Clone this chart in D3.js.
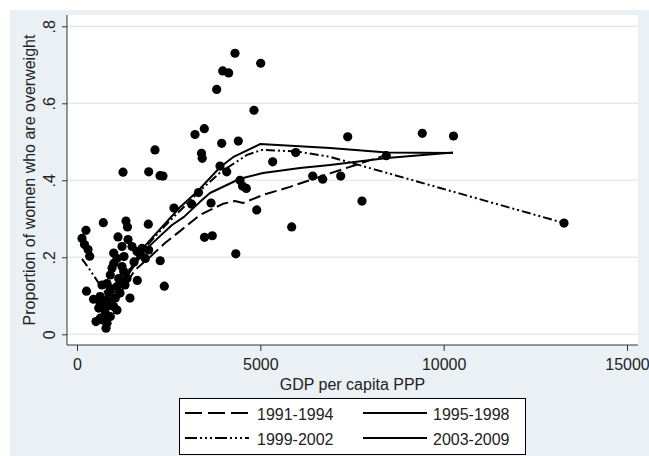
<!DOCTYPE html>
<html>
<head>
<meta charset="utf-8">
<script src="https://cdn.jsdelivr.net/npm/d3@7"></script>
<style>
  html, body { margin: 0; padding: 0; background: #ffffff; }
  svg { display: block; font-family: "Liberation Sans", Arial, sans-serif; }
</style>
</head>
<body>
<svg id="chart" width="649" height="456"></svg>
<script>
// ---------- DATA ----------
const xTicks = [0, 5000, 10000, 15000];
const xTickLabels = ["0", "5000", "10000", "15000"];
const yTicks = [0, 0.2, 0.4, 0.6, 0.8];
const yTickLabels = ["0", ".2", ".4", ".6", ".8"];
const xTitle = "GDP per capita PPP";
const yTitle = "Proportion of women who are overweight";
const seriesNames = ["1991-1994", "1995-1998", "1999-2002", "2003-2009"];

// scatter: GDP per capita PPP, proportion overweight
const pointsGdp = [4309,5010,3974,4137,3810,4827,3218,3472,3946,4399,3395,3415,2127,1255,1955,2264,2345,3900,4083,5337,
  5965,4445,4514,4617,3314,3128,3655,2645,4901,717,1336,1945,1377,245,5855,7383,9417,10268,8436,7192,
  6701,6428,7773,13282,3477,3690,4331,2269,2381,1645,1445,136,205,300,346,1118,1391,1227,1001,1500,
  1636,1773,1955,1863,1091,1001,1227,1274,908,1137,1364,259,682,818,908,1091,450,635,818,1045,
  592,818,1001,772,635,908,818,709,791,518,1091,865,635,1282,1555,1737,1173,1309,955];
const pointsProp = [0.730,0.704,0.684,0.679,0.636,0.582,0.519,0.534,0.496,0.502,0.470,0.457,0.479,0.421,0.422,0.412,0.411,0.437,0.422,0.448,
  0.472,0.400,0.385,0.379,0.368,0.338,0.341,0.328,0.323,0.290,0.294,0.286,0.279,0.270,0.279,0.513,0.522,0.515,0.464,0.411,
  0.403,0.411,0.346,0.289,0.252,0.256,0.209,0.191,0.125,0.140,0.094,0.249,0.233,0.220,0.203,0.253,0.246,0.228,0.211,0.228,
  0.215,0.223,0.219,0.197,0.197,0.184,0.176,0.163,0.154,0.145,0.145,0.112,0.128,0.132,0.119,0.124,0.091,0.098,0.089,0.094,
  0.068,0.072,0.072,0.055,0.042,0.046,0.029,0.037,0.016,0.033,0.063,0.108,0.081,0.202,0.188,0.206,0.107,0.128,0.172];

// smoothed curves per period
const gdp9194  = [709, 955, 1227, 1582, 1991, 2400, 2809, 3355, 3982, 4309, 4527, 5073, 5809, 6900, 8441];
const prop9194 = [0.076,0.084,0.115,0.167,0.201,0.237,0.268,0.310,0.339,0.346,0.341,0.362,0.383,0.418,0.466];

const gdp9598  = [627, 845, 1118, 1445, 1827, 2264, 2591, 2918, 3355, 3627, 4445, 5073, 6082, 6900, 8455, 10255];
const prop9598 = [0.089,0.081,0.110,0.162,0.216,0.255,0.284,0.305,0.344,0.367,0.404,0.419,0.432,0.440,0.458,0.472];

const gdp9902  = [136, 355, 627, 818, 1036, 1309, 1582, 1855, 2400, 2809, 3355, 3900, 4636, 5045, 5973, 6900, 13282];
const prop9902 = [0.196,0.167,0.128,0.102,0.112,0.151,0.192,0.225,0.282,0.321,0.373,0.420,0.466,0.479,0.475,0.461,0.289];

const gdp0309  = [545, 764, 1036, 1309, 1582, 1827, 2264, 2809, 3273, 3900, 4255, 4991, 6900, 8455, 10255];
const prop0309 = [0.107,0.094,0.110,0.146,0.190,0.227,0.273,0.330,0.370,0.434,0.460,0.494,0.484,0.472,0.471];

// ---------- DRAW ----------
const svg = d3.select("#chart");
const W = 649, H = 456;
const plot = {l: 67, r: 638, t: 15, b: 345};

const x = d3.scaleLinear().domain([0, 15000]).range([77, 627]);
const y = d3.scaleLinear().domain([0, 0.8]).range([334.3, 26.3]);

// outer background
svg.append("rect").attr("x", 0).attr("y", 0).attr("width", W).attr("height", H).attr("fill", "#ffffff");
svg.append("rect").attr("x", 10).attr("y", 10).attr("width", W - 10).attr("height", H - 10).attr("fill", "#eaf0f3");
// plot region
svg.append("rect").attr("x", plot.l).attr("y", plot.t).attr("width", plot.r - plot.l).attr("height", plot.b - plot.t).attr("fill", "#ffffff");

// gridlines
svg.append("g").selectAll("line").data(yTicks).join("line")
  .attr("x1", plot.l).attr("x2", plot.r)
  .attr("y1", d => y(d)).attr("y2", d => y(d))
  .attr("stroke", "#e2ebf0").attr("stroke-width", 1.5);

// y axis
const yAxis = d3.axisLeft(y).tickValues(yTicks).tickFormat((d, i) => yTickLabels[i]).tickSize(5).tickSizeOuter(0);
const gy = svg.append("g").attr("transform", `translate(${plot.l},0)`).call(yAxis);
gy.select(".domain").remove();
gy.selectAll(".tick line").attr("stroke", "#333").attr("stroke-width", 1);
gy.selectAll(".tick text")
  .attr("x", null).attr("dy", null)
  .attr("transform", "translate(-12,0) rotate(-90)")
  .attr("text-anchor", "middle")
  .attr("font-size", 16).attr("fill", "#222")
  .style("font-family", "'Liberation Sans', Arial, sans-serif");
svg.append("line").attr("x1", plot.l).attr("x2", plot.l).attr("y1", plot.t).attr("y2", plot.b)
  .attr("stroke", "#333").attr("stroke-width", 1);

// x axis
const xAxis = d3.axisBottom(x).tickValues(xTicks).tickFormat((d, i) => xTickLabels[i]).tickSize(6).tickSizeOuter(0);
const gx = svg.append("g").attr("transform", `translate(0,${plot.b})`).call(xAxis);
gx.select(".domain").remove();
gx.selectAll(".tick line").attr("stroke", "#333").attr("stroke-width", 1);
gx.selectAll(".tick text")
  .attr("y", 25).attr("dy", null)
  .attr("font-size", 16).attr("fill", "#222")
  .style("font-family", "'Liberation Sans', Arial, sans-serif");
svg.append("line").attr("x1", plot.l).attr("x2", plot.r).attr("y1", plot.b).attr("y2", plot.b)
  .attr("stroke", "#333").attr("stroke-width", 1);

// titles
svg.append("text").attr("x", (plot.l + plot.r) / 2).attr("y", 390)
  .attr("text-anchor", "middle").attr("font-size", 16).attr("fill", "#222").text(xTitle);
svg.append("text").attr("transform", `translate(35,${(plot.t + plot.b) / 2}) rotate(-90)`)
  .attr("text-anchor", "middle").attr("font-size", 16).attr("fill", "#222").text(yTitle);

// scatter points
const pts = pointsGdp.map((g, i) => ({g, p: pointsProp[i]}));
svg.append("g").selectAll("circle").data(pts).join("circle")
  .attr("cx", d => x(d.g)).attr("cy", d => y(d.p)).attr("r", 4.6).attr("fill", "#000");

// lines
const styles = {
  "1991-1994": {dash: "12,5", legendDash: "17,6"},
  "1995-1998": {dash: null, legendDash: null},
  "1999-2002": {dash: "9,3,2,3,2,3", legendDash: "12,3,2,3,2,3,2,3"},
  "2003-2009": {dash: null, legendDash: null}
};
const seriesData = {
  "1991-1994": gdp9194.map((g, i) => [g, prop9194[i]]),
  "1995-1998": gdp9598.map((g, i) => [g, prop9598[i]]),
  "1999-2002": gdp9902.map((g, i) => [g, prop9902[i]]),
  "2003-2009": gdp0309.map((g, i) => [g, prop0309[i]])
};
const line = d3.line().x(d => x(d[0])).y(d => y(d[1])).curve(d3.curveLinear);
const lg = svg.append("g").attr("fill", "none").attr("stroke", "#000").attr("stroke-width", 2);
seriesNames.forEach(n => {
  lg.append("path").attr("d", line(seriesData[n]))
    .attr("stroke-dasharray", styles[n].dash)
    .attr("stroke-linejoin", "round");
});

// legend
const leg = svg.append("g");
leg.append("rect").attr("x", 179.5).attr("y", 398.5).attr("width", 346).attr("height", 56)
  .attr("fill", "#ffffff").attr("stroke", "#000").attr("stroke-width", 1);
const legPos = [
  {n: "1991-1994", lx: 185, ly: 413, tx: 257, ty: 420},
  {n: "1995-1998", lx: 363, ly: 413, tx: 433, ty: 420},
  {n: "1999-2002", lx: 185, ly: 438, tx: 257, ty: 445},
  {n: "2003-2009", lx: 363, ly: 438, tx: 433, ty: 445}
];
legPos.forEach(p => {
  leg.append("line").attr("x1", p.lx).attr("x2", p.lx + 64).attr("y1", p.ly).attr("y2", p.ly)
    .attr("stroke", "#000").attr("stroke-width", 2).attr("stroke-dasharray", styles[p.n].legendDash);
  leg.append("text").attr("x", p.tx).attr("y", p.ty).attr("font-size", 16).attr("fill", "#222").text(p.n);
});
</script>
</body>
</html>
